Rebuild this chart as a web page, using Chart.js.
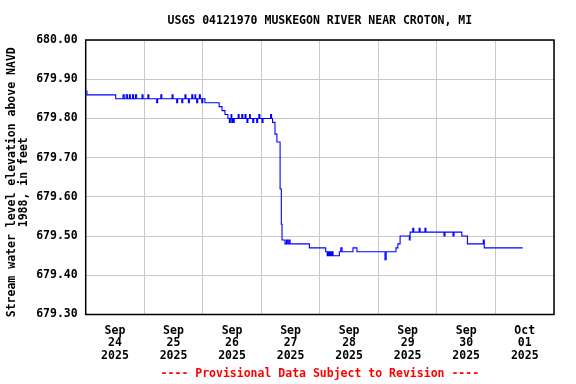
<!DOCTYPE html>
<html>
<head>
<meta charset="utf-8">
<script src="https://cdn.jsdelivr.net/npm/chart.js@4"></script>
<style>
  html, body { margin: 0; padding: 0; background: #fff; }
  #wrap { width: 576px; height: 384px; }
</style>
</head>
<body>
<div id="wrap"><canvas id="gageChart" width="576" height="384"></canvas></div>
<script>
// hours since Sep 24 2025 00:00, value holds until the next reading
const hours = [
  0, 0.5, 12.3, 15.3, 15.8, 16.6, 17.1, 17.9, 18.3, 19.2, 19.6, 20.4, 20.9,
  23.1, 23.5, 25.5, 25.9, 29.1, 29.5, 30.8, 31.2, 35.4, 35.8, 37.3, 37.7,
  39.4, 39.8, 40.7, 41.1, 42.1, 42.5, 43.5, 43.9, 44.8, 45.1, 45.5, 45.9,
  46.6, 47.0, 47.6, 48.0, 48.9, 54.7, 55.9, 57.1, 58.3, 58.9, 59.3, 59.6,
  59.9, 60.3, 60.5, 60.9, 62.5, 62.9, 64.0, 64.4, 65.3, 65.7, 66.1, 66.5,
  67.2, 67.5, 68.5, 68.9, 70.1, 70.5, 71.0, 71.4, 72.3, 72.7, 75.8, 76.2,
  76.6, 77.6, 78.4, 79.7, 80.2, 80.5, 81.7, 82.3, 82.8, 83.3, 83.8, 91.7,
  98.4, 99.0, 99.4, 99.8, 100.2, 100.6, 101.0, 101.4, 104.0, 104.6, 105.1,
  109.6, 111.2, 122.7, 123.2, 127.2, 128.0, 128.9, 132.7, 133.0, 134.1,
  134.5, 136.7, 137.1, 139.1, 139.5, 146.9, 147.3, 150.6, 151.0, 154.2,
  156.5, 163.0, 163.4, 179.2
];
const levels = [
  679.87, 679.86, 679.85, 679.86, 679.85, 679.86, 679.85, 679.86, 679.85, 679.86, 679.85, 679.86, 679.85,
  679.86, 679.85, 679.86, 679.85, 679.84, 679.85, 679.86, 679.85, 679.86, 679.85, 679.84, 679.85,
  679.84, 679.85, 679.86, 679.85, 679.84, 679.85, 679.86, 679.85, 679.86, 679.85, 679.84, 679.85,
  679.86, 679.85, 679.84, 679.85, 679.84, 679.83, 679.82, 679.81, 679.80, 679.79, 679.80, 679.81,
  679.79, 679.80, 679.79, 679.80, 679.81, 679.80, 679.81, 679.80, 679.81, 679.80, 679.79, 679.80,
  679.81, 679.80, 679.79, 679.80, 679.79, 679.80, 679.81, 679.80, 679.79, 679.80, 679.81, 679.80,
  679.79, 679.76, 679.74, 679.62, 679.53, 679.49, 679.48, 679.49, 679.48, 679.49, 679.48, 679.47,
  679.46, 679.45, 679.46, 679.45, 679.46, 679.45, 679.46, 679.45, 679.46, 679.47, 679.46,
  679.47, 679.46, 679.44, 679.46, 679.47, 679.48, 679.50, 679.49, 679.51, 679.52,
  679.51, 679.52, 679.51, 679.52, 679.51, 679.50, 679.51, 679.50, 679.51, 679.50,
  679.48, 679.49, 679.47, 679.47
];

const yTicks = [679.30, 679.40, 679.50, 679.60, 679.70, 679.80, 679.90, 680.00];
// one label per day, placed at noon
const dayMonth = ["Sep", "Sep", "Sep", "Sep", "Sep", "Sep", "Sep", "Oct"];
const dayNum = ["24", "25", "26", "27", "28", "29", "30", "01"];
const dayYear = ["2025", "2025", "2025", "2025", "2025", "2025", "2025", "2025"];
const yTitle = ["Stream water level elevation above NAVD", "1988, in feet"];

const FONT = "'DejaVu Sans Mono', monospace";

// black frame all round the plot, plus the rotated y title
const frame = {
  id: "frame",
  beforeDatasetsDraw(chart) {
    const { ctx, chartArea: a } = chart;
    ctx.save();
    ctx.strokeStyle = "#000";
    ctx.lineWidth = 1.5;
    ctx.strokeRect(a.left, a.top, a.right - a.left, a.bottom - a.top);
    ctx.restore();
  },
  afterDraw(chart) {
    const { ctx, chartArea: a } = chart;
    const midY = (a.top + a.bottom) / 2 + 5;
    ctx.save();
    ctx.fillStyle = "#000";
    ctx.font = "bold 11.5px " + FONT;
    ctx.textAlign = "center";
    ctx.textBaseline = "middle";
    yTitle.forEach((line, i) => {
      ctx.save();
      ctx.translate(12 + i * 12.5, midY);
      ctx.rotate(-Math.PI / 2);
      ctx.fillText(line, 0, 0);
      ctx.restore();
    });
    ctx.restore();
  },
};

const ctx = document.getElementById("gageChart").getContext("2d");
new Chart(ctx, {
  type: "line",
  data: {
    datasets: [{
      data: hours.map((h, i) => ({ x: h, y: levels[i] })),
      borderColor: "#0000ff",
      borderWidth: 1.1,
      pointRadius: 0,
      stepped: true,
      fill: false,
    }],
  },
  options: {
    responsive: false,
    animation: false,
    events: [],
    layout: { padding: { left: 0, right: 22, top: 0, bottom: 0 } },
    plugins: {
      legend: { display: false },
      tooltip: { enabled: false },
      title: {
        display: true,
        fullSize: false,
        text: "USGS 04121970 MUSKEGON RIVER NEAR CROTON, MI",
        color: "#000",
        font: { family: FONT, size: 11.5, weight: "bold", lineHeight: 1.2 },
        padding: { top: 13.8, bottom: 12.4 },
      },
      subtitle: {
        display: true,
        fullSize: false,
        position: "bottom",
        text: "---- Provisional Data Subject to Revision ----",
        color: "#ff0000",
        font: { family: FONT, size: 11.5, weight: "bold", lineHeight: 1.2 },
        padding: { top: 5.3, bottom: 2.9 },
      },
    },
    scales: {
      x: {
        type: "linear",
        min: 0,
        max: 192,
        afterBuildTicks(scale) {
          const t = [];
          for (let h = 0; h <= 192; h += 12) t.push({ value: h });
          scale.ticks = t;
        },
        afterFit(scale) { scale.height = 47.5; },
        border: { display: false },
        grid: {
          drawTicks: false,
          lineWidth: 1,
          color: (c) => (c.tick && c.tick.value % 24 === 0 ? "#c8c8c8" : "rgba(0,0,0,0)"),
        },
        ticks: {
          autoSkip: false,
          maxRotation: 0,
          padding: 10,
          color: "#000",
          font: { family: FONT, size: 11.5, weight: "bold", lineHeight: 1.087 },
          callback(value) {
            if (value % 24 !== 12) return "";
            const d = (value - 12) / 24;
            return [dayMonth[d], dayNum[d], dayYear[d]];
          },
        },
      },
      y: {
        min: 679.3,
        max: 680.0,
        afterBuildTicks(scale) {
          scale.ticks = yTicks.map((v) => ({ value: v }));
        },
        afterFit(scale) { scale.width = 85.7; },
        border: { display: false },
        grid: { drawTicks: false, lineWidth: 1, color: "#c8c8c8" },
        ticks: {
          padding: 8,
          color: "#000",
          font: { family: FONT, size: 11.5, weight: "bold" },
          callback: (value) => Number(value).toFixed(2),
        },
      },
    },
  },
  plugins: [frame],
});
</script>
</body>
</html>
